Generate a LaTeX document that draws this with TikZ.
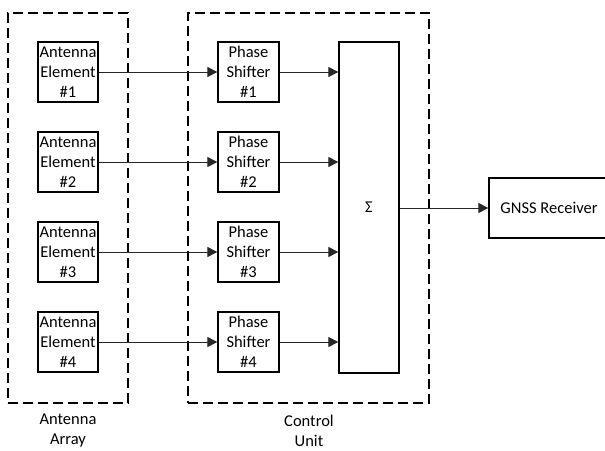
\documentclass[tikz,border=0pt]{standalone}
\usepackage{fontspec}
\setmainfont{Carlito}
\usetikzlibrary{arrows.meta}
\begin{document}
\begin{tikzpicture}[x=1pt,y=-1pt,
  every node/.style={font=\fontsize{16.5}{20}\selectfont},
  blk/.style={draw, line width=1.3pt, inner sep=0pt, align=center},
  grp/.style={draw, line width=1.4pt, dash pattern=on 10pt off 5pt, inner sep=0pt},
  arr/.style={line width=1pt, draw=black!85, -{Triangle[length=10pt,width=10pt]}},
  lbl/.style={align=center, inner sep=0pt}]
\useasboundingbox (0,0) rectangle (605,450);
% group boxes
\node[grp, minimum width=120pt, minimum height=390pt] (ga) at (68,208) {};
\node[grp, minimum width=241pt, minimum height=390pt] (gc) at (308.5,208) {};
\node[lbl] (la) at (68,431) {Antenna\\Array};
\node[lbl] (lc) at (309,431) {Control\\Unit};
% antenna elements and phase shifters
\foreach \i/\y in {1/72,2/162,3/252,4/342}{
  \node[blk, minimum width=60pt, minimum height=60pt] (a\i) at (68,\y) {Antenna\\Element\\\#\i};
  \node[blk, minimum width=61pt, minimum height=60pt] (p\i) at (248.5,\y) {Phase\\Shifter\\\#\i};
}
\node[blk, minimum width=60pt, minimum height=331pt] (s) at (369,207.5) {Σ};
\node[blk, minimum width=120pt, minimum height=60pt] (g) at (549,208) {GNSS Receiver};
\foreach \i in {1,2,3,4}{
  \draw[arr] (a\i.east) -- (p\i.west);
  \draw[arr] (p\i.east) -- (p\i.east -| s.west);
}
\draw[arr] (s.east |- g.west) -- (g.west);
\end{tikzpicture}
\end{document}
